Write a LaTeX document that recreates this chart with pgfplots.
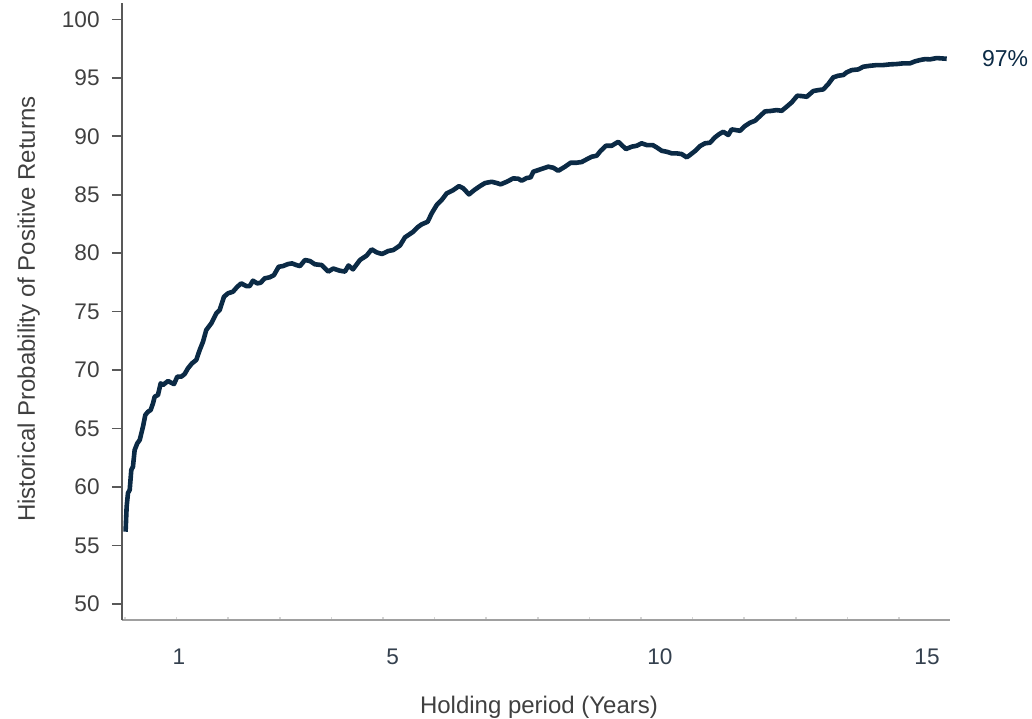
\documentclass[border=0pt]{standalone}
\usepackage{pgfplots}
\pgfplotsset{compat=1.18}
\usepackage{fontspec}
\setmainfont{Liberation Sans}

\definecolor{navy}{HTML}{0B2A45}
\definecolor{txt}{HTML}{404040}
\definecolor{xtxt}{HTML}{34404E}
\definecolor{ygray}{HTML}{595959}
\definecolor{xgray}{HTML}{A0A0A0}

% holding period (years) vs. historical probability of positive returns (%)
\pgfplotstableread{
yr     p
0.00   56.18
0.02   58.32
0.045  59.49
0.077  59.75
0.107  61.46
0.138  61.74
0.170  63.17
0.219  63.74
0.264  64.02
0.326  65.16
0.369  66.16
0.419  66.44
0.470  66.59
0.513  67.16
0.545  67.73
0.606  67.87
0.657  68.87
0.700  68.73
0.794  69.07
0.855  68.92
0.906  68.81
0.968  69.44
1.042  69.44
1.106  69.67
1.168  70.16
1.243  70.58
1.323  70.87
1.387  71.72
1.449  72.43
1.510  73.43
1.604  74.00
1.698  74.86
1.761  75.14
1.842  76.28
1.917  76.57
2.010  76.71
2.091  77.13
2.165  77.42
2.259  77.19
2.323  77.19
2.384  77.65
2.465  77.42
2.529  77.48
2.603  77.85
2.697  77.94
2.777  78.13
2.865  78.84
2.946  78.90
3.039  79.07
3.114  79.13
3.195  78.99
3.264  78.90
3.358  79.42
3.451  79.33
3.545  79.05
3.670  78.99
3.794  78.43
3.887  78.69
4.013  78.50
4.106  78.43
4.172  78.95
4.256  78.62
4.387  79.42
4.512  79.80
4.606  80.33
4.700  80.07
4.799  79.93
4.917  80.19
5.010  80.27
5.136  80.66
5.229  81.36
5.291  81.55
5.385  81.84
5.459  82.20
5.542  82.47
5.654  82.69
5.729  83.41
5.823  84.12
5.916  84.55
6.010  85.12
6.133  85.40
6.240  85.74
6.320  85.55
6.427  85.03
6.526  85.40
6.633  85.74
6.727  86.00
6.852  86.11
6.951  86.00
7.020  85.89
7.133  86.11
7.256  86.40
7.350  86.37
7.413  86.20
7.507  86.43
7.582  86.49
7.631  86.97
7.724  87.11
7.818  87.26
7.911  87.40
8.005  87.31
8.098  87.05
8.224  87.40
8.331  87.74
8.443  87.74
8.536  87.80
8.630  88.03
8.724  88.25
8.817  88.34
8.892  88.76
8.991  89.19
9.098  89.19
9.221  89.53
9.285  89.25
9.366  88.91
9.472  89.11
9.566  89.19
9.659  89.40
9.753  89.25
9.865  89.25
9.940  89.05
10.034 88.76
10.127 88.68
10.221 88.54
10.314 88.54
10.408 88.48
10.502 88.20
10.563 88.40
10.657 88.74
10.751 89.16
10.844 89.40
10.938 89.45
11.031 89.91
11.112 90.19
11.187 90.39
11.280 90.11
11.344 90.59
11.500 90.47
11.593 90.88
11.687 91.16
11.780 91.33
11.874 91.73
11.968 92.13
12.061 92.16
12.186 92.24
12.280 92.18
12.373 92.53
12.467 92.90
12.572 93.47
12.654 93.44
12.748 93.38
12.871 93.87
12.965 93.95
13.058 94.01
13.152 94.47
13.245 95.04
13.339 95.18
13.433 95.24
13.496 95.47
13.590 95.66
13.713 95.72
13.807 95.95
13.932 96.03
14.058 96.09
14.181 96.09
14.306 96.15
14.432 96.18
14.556 96.24
14.681 96.24
14.775 96.41
14.868 96.52
14.962 96.60
15.056 96.58
15.181 96.69
15.368 96.63
}\probtable

\begin{document}
\begin{tikzpicture}
  \begin{axis}[
      at={(0,0)}, anchor=south west,
      scale only axis,
      width=414pt, height=308.5pt,
      xmin=-0.067, xmax=15.43,
      ymin=48.63, ymax=101.4,
      axis x line*=bottom,
      axis y line*=left,
      x axis line style={draw=xgray, line width=0.8pt, -},
      y axis line style={draw=ygray, line width=0.8pt, -},
      tick align=outside,
      major tick length=5pt,
      minor tick length=1.5pt,
      xtick={1,5,10,15},
      major x tick style={draw=none},
      minor xtick={-0.011,0.955,1.920,2.886,3.852,4.817,5.783,6.749,7.714,8.680,9.646,10.611,11.577,12.543,13.508,14.474},
      minor x tick style={draw=xgray!45, line width=0.8pt, yshift=1.5pt},
      ytick={50,55,...,100},
      y tick style={draw=ygray, line width=0.8pt},
      /pgf/number format/assume math mode=true,
      tick label style={font=\fontsize{11.3}{13}\selectfont},
      xticklabel style={text=xtxt, anchor=base, inner sep=0pt, yshift=-17pt},
      yticklabel style={text=txt, anchor=east, inner sep=0pt, xshift=-6pt},
    ]
    \addplot[navy, line width=2.3pt, line join=round] table[x=yr, y=p] {\probtable};
  \end{axis}
  \node[rotate=90, anchor=base, text=txt, inner sep=0pt,
        font=\fontsize{12}{14}\selectfont] at (-43.5pt,155.5pt)
        {Historical Probability of Positive Returns};
  \node[anchor=base, text=txt, inner sep=0pt,
        font=\fontsize{12}{14}\selectfont] at (208.5pt,-46.5pt)
        {Holding period (Years)};
  \node[anchor=west, text=navy, inner sep=0pt,
        font=\fontsize{11.5}{13}\selectfont] at (429.8pt,280.8pt) {97\%};
  \pgfresetboundingbox
  \path[use as bounding box] (-61pt,-49pt) rectangle (455pt,310pt);
\end{tikzpicture}
\end{document}
